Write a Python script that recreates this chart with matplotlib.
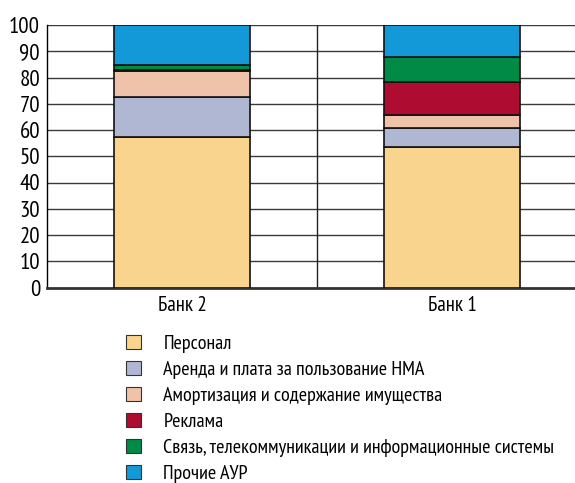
import matplotlib
matplotlib.use("Agg")
import matplotlib.pyplot as plt
from matplotlib.patches import Patch

plt.rcParams['font.family'] = ['PT Sans Narrow', 'Roboto Condensed', 'DejaVu Sans']

categories = ["Банк 2", "Банк 1"]
series_names = [
    "Персонал",
    "Аренда и плата за пользование НМА",
    "Амортизация и содержание имущества",
    "Реклама",
    "Связь, телекоммуникации и информационные системы",
    "Прочие АУР",
]
personal = [57.3, 53.6]
rent = [15.2, 7.2]
amort = [9.8, 5.0]
ads = [0.6, 12.4]
telecom = [1.7, 9.6]
other = [15.4, 12.2]
series = [personal, rent, amort, ads, telecom, other]
colors = ["#F8D48F", "#B0B7D3", "#EFC2AA", "#AF0C32", "#008A45", "#1499D8"]
yticks = list(range(0, 101, 10))

fig = plt.figure(figsize=(5.75, 4.83), dpi=100)
W, H = 575, 483
left, right, bottom, top = 47, 575, 287.5, 25
ax = fig.add_axes([left / W, 1 - bottom / H, (right - left) / W, (bottom - top) / H])

x = list(range(len(categories)))
base = [0.0] * len(categories)
handles = []
for vals, col, name in zip(series, colors, series_names):
    ax.bar(x, vals, bottom=base, width=0.507, color=col, edgecolor="#111111",
           linewidth=1.2, zorder=3)
    base = [b + v for b, v in zip(base, vals)]
    handles.append(Patch(facecolor=col, edgecolor="#333333", linewidth=0.8, label=name))

ax.set_xlim(-0.5, -0.5 + (right - left) / 270)
ax.set_ylim(0, 100)
ax.set_yticks(yticks)
ax.set_yticklabels([str(t) for t in yticks], fontsize=16.5)
ax.set_xticks(x)
ax.set_xticklabels(categories, fontsize=15)
ax.tick_params(axis='x', length=0, pad=6)
ax.tick_params(axis='y', length=0, pad=5)
for t in yticks[1:]:
    ax.axhline(t, color="#3a3a3a", linewidth=1.0, zorder=1)
ax.axvline(0.5, color="#222222", linewidth=1.0, zorder=1)
for s in ["top", "right"]:
    ax.spines[s].set_visible(False)
ax.spines["left"].set_linewidth(1.0)
ax.spines["bottom"].set_linewidth(2.0)
ax.spines["bottom"].set_color("#333333")

leg = fig.legend(handles=handles, loc="upper left",
                 bbox_to_anchor=(126 / W, 1 - 335 / H), frameon=False,
                 fontsize=14.5, handlelength=0.75, handleheight=0.65,
                 handletextpad=1.1, labelspacing=0.4, borderaxespad=0,
                 borderpad=0)

fig.savefig("out.png", dpi=100)
